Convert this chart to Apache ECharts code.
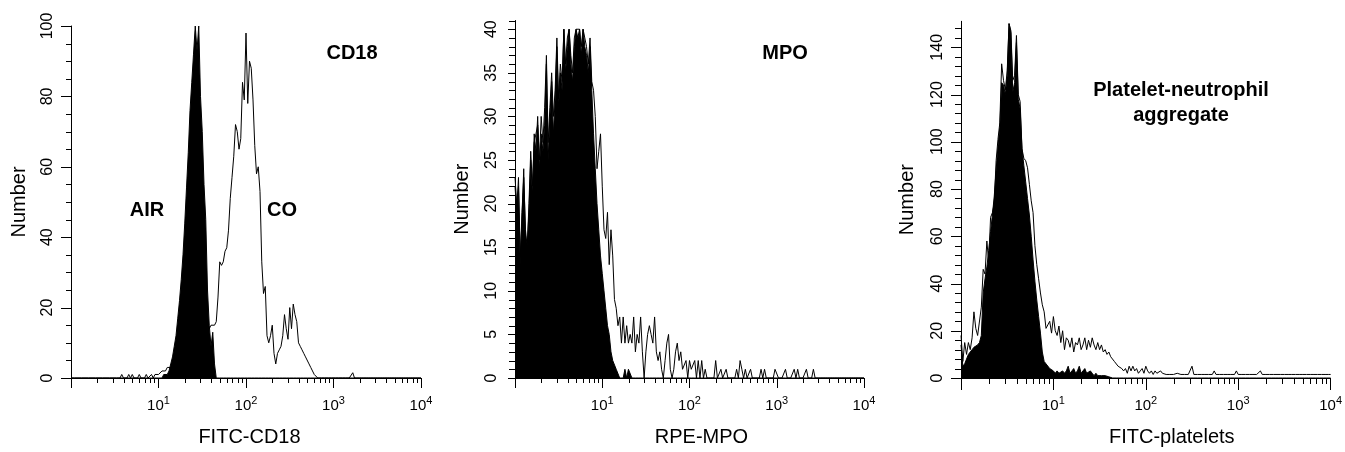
<!DOCTYPE html>
<html><head><meta charset="utf-8">
<script src="https://cdn.jsdelivr.net/npm/echarts@6/dist/echarts.min.js"></script>
<style>html,body{margin:0;padding:0;background:#fff}#c{width:1345px;height:452px}</style>
</head><body><div id="c"></div>
<script>
// ---------- data ----------
const CH_PER_DECADE = 50;              // log-amplified channels per decade (x = 10^(ch/50))
const xTickLabelsExp = [0, 1, 2, 3, 4]; // 10^0 .. 10^4
const xMinorTicks = [2,3,4,5,6,7,8,9, 20,30,40,50,60,70,80,90, 200,300,400,500,600,700,800,900, 2000,3000,4000,5000,6000,7000,8000,9000];
const xAxisNames = ['FITC-CD18', 'RPE-MPO', 'FITC-platelets'];
const yAxisName = 'Number';
const yAxisMax = [100, 41, 151];
const yLabelStep = [20, 5, 20];
const yMinorStep = [5, 1, 4];
const panelTitles = [['CD18'], ['MPO'], ['Platelet-neutrophil', 'aggregate']];
const groupLabels = ['AIR', 'CO'];

// Panel A: CD18 (channels from start)
const cd18AirStart = 52;
const cd18AirCounts = [0,1,1,1,2,4,6,9,12,17,22,28,35,44,54,64,76,84,92,100,93,100,80,70,55,45,25,15,9,13,4,0];
const cd18CoStart = 28;
const cd18CoCounts = [
  0,1,0,0,0,1,0,1,0,0,
  0,1,0,0,0,1,0,0,1,0,
  1,1,1,1,2,2,2,3,3,3,
  3,4,4,5,5,6,6,7,7,8,
  8,9,9,10,10,11,11,12,12,13,
  13,14,15,15,15,16,23,33,32,33,
  36,37,42,51,57,63,72,70,65,68,
  84,79,98,78,90,88,79,66,58,60,
  53,33,24,26,12,10,12,15,7,4,
  7,8,9,12,18,14,11,20,14,21,
  18,16,10,9,8,7,6,6,4,3,
  2,1,1,0,0,0,0,0,0,0,
  0,0,0,0,0,0,0,0,0,0,
  0,0,0,1.5,0];

// Panel B: MPO
const mpoAirStart = 0;
const mpoAirCounts = [
  23,20,22,13,19,23,17,15,19,25,
  21,28,26,30,24,28,26,29,36,25,
  30,34,28,32,38,31,35,33,40,35,
  38,40,36,34,38,40,39,40,37,40,
  38,37,35,38,33,28,24,20,17,14,
  12,10,8,6,5,3,2,2,1,1,
  0,0,0,1,0,1,1,0];
const mpoCoStart = 0;
const mpoCoCounts = [
  22,19,23,14,18,24,16,15,20,26,
  22,27,28,29,25,30,27,31,37,27,
  31,35,30,33,39,32,36,34,40,36,
  39,40,37,35,39,40,40,40,38,40,
  39,38,36,39,34,33,30,24,26,28,
  22,17,16,19,13,17,14,9,8,6,
  7,4,7,4,6,4,5,4,7,3,
  5,4,7,3,0,3,5,6,5,4,
  7,3,2,3,1,0,2,4,5,1,
  0,1,3,4,2,3,1,1,2,0,
  2,1,1,2,0,2,0,2,0,1,
  0,0,0,0,0,2,0,0,1,0,
  0,1,0,0,0,0,0,1,0,2,
  1,0,1,0,0,1,0,0,0,0,
  0,1,0,1,0,0,0,0,0,1,
  1,0,0,0,0,1,0,0,0,0,
  1,0,1,0,0,0,0,1,0,0,
  0,1,0];

// Panel C: platelet-neutrophil aggregate
const platAirStart = 0;
const platAirCounts = [
  14,5,6,8,10,11,12,13,13,14,
  15,18,36,42,47,54,62,69,77,88,
  98,106,125,124,120,128,150,146,121,125,
  142,118,114,97,90,83,76,69,60,50,
  41,33,26,19,11,7,6,6,4,4,
  3,2,3,2,2,3,2,3,5,2,
  3,4,2,3,5,2,2,4,2,2,
  3,2,1,2,1,1,1,1,1,0.5,0.5];
const platCoStart = 0;
const platCoCounts = [
  18,7,15,10,15,12,17,28,21,18,
  18,30,46,44,58,49,68,70,74,92,
  101,108,133,126,122,130,150,147,126,128,
  145,120,117,97,93,92,89,82,75,70,
  56,48,42,36,31,28,21,21,24,19,
  26,20,18,22,15,20,12,17,16,13,
  17,11,15,14,17,12,14,17,12,16,
  13,17,14,12,15,12,14,11,12,10,
  11,9,9,7,7,5,5,4,3,4,
  2,5,3,5,3,4,2,3,4,2,
  5,3,2,3,1.5,3,2,1.5,3,2,
  2,1.5,2,1.5,2,1.5,1.5,2,1.5,1.5,
  2,1.5,1.5,1.5,1.5,5,1.5,1.5,1.5,1.5,
  1.5,1.5,1.5,1.5,1.5,1.5,1.5,3,1.5,1.5,
  1.5,1.5,1.5,1.5,1.5,1.5,1.5,1.5,1.5,3,
  1.5,1.5,1.5,1.5,1.5,1.5,1.5,1.5,1.5,1.5,
  1.5,1.5,3,1.5,1.5,1.5,1.5,1.5,1.5,1.5,
  1.5,1.5,1.5,1.5,1.5,1.5,1.5,1.5,1.5,1.5,
  1.5,1.5,1.5,1.5,1.5,1.5,1.5,1.5,1.5,1.5,
  1.5,1.5,1.5,1.5,1.5,1.5,1.5,1.5,1.5,1.5,
  1.5];

// ---------- build ----------
const FONT = '"Liberation Sans", Arial, Helvetica, sans-serif';
const N_CH = 4 * CH_PER_DECADE;
function toPoints(start, counts) {
  const pts = [];
  for (let ch = 0; ch <= N_CH; ch++) {
    const i = ch - start;
    const v = (i >= 0 && i < counts.length) ? counts[i] : 0;
    pts.push([Math.pow(10, ch / CH_PER_DECADE), v]);
  }
  return pts;
}

const grids = [
  {left: 71, top: 26, width: 350, height: 357.3},
  {left: 515, top: 20.5, width: 349, height: 362.8},
  {left: 961, top: 21.3, width: 371, height: 362}
];
const xMajorLen = [10, 10, 12];
const xMinorLen = [5, 5, 6];
const yMajorLen = [10, 7, 10];
const yMinorLen = [5, 6, 6];
const xNamePad = [7, 24, 52];
const yNameGap = [42, 43, 44];

const xAxes = grids.map((g, gi) => ({
  type: 'log', logBase: 10, min: 1, max: 10000, gridIndex: gi,
  axisLine: {lineStyle: {color: '#000', width: 1}},
  axisTick: {length: xMajorLen[gi], lineStyle: {color: '#000', width: 1}},
  splitLine: {show: false},
  axisLabel: {
    margin: 17, color: '#000',
    formatter: v => {
      const e = Math.round(Math.log10(v));
      return (e === xTickLabelsExp[0]) ? '' : '{b|10}{s|' + e + '}';
    },
    rich: {
      b: {fontSize: 15, fontFamily: FONT, color: '#000', lineHeight: 18, verticalAlign: 'bottom'},
      s: {fontSize: 11, fontFamily: FONT, color: '#000', lineHeight: 18, verticalAlign: 'top'}
    }
  },
  name: xAxisNames[gi], nameLocation: 'middle', nameGap: 49,
  nameTextStyle: {fontSize: 20, fontFamily: FONT, color: '#000', padding: [0, 0, 0, xNamePad[gi]]}
}));

const yAxes = grids.map((g, gi) => ({
  type: 'value', gridIndex: gi, min: 0, max: yAxisMax[gi], interval: yLabelStep[gi],
  axisLine: {show: true, lineStyle: {color: '#000', width: 1}},
  axisTick: {show: false},
  splitLine: {show: false},
  axisLabel: {
    rotate: 90, margin: 15, fontSize: 16, fontFamily: FONT, color: '#000',
    formatter: v => (v % yLabelStep[gi] === 0 ? String(v) : '')
  },
  name: yAxisName, nameLocation: 'middle', nameGap: yNameGap[gi],
  nameTextStyle: {fontSize: 20, fontFamily: FONT, color: '#000'}
}));

function tickSeries(gi) {
  const items = [];
  xMinorTicks.forEach(v => items.push([v, 0, 0]));
  for (let v = 0; v <= yAxisMax[gi]; v += yMinorStep[gi]) {
    items.push([1, v, v % yLabelStep[gi] === 0 ? 2 : 1]);
  }
  return {
    type: 'custom', xAxisIndex: gi, yAxisIndex: gi, clip: false, silent: true, z: 10,
    data: items,
    renderItem: (params, api) => {
      const kind = api.value(2);
      const p = api.coord([api.value(0), api.value(1)]);
      if (kind === 0) {
        const x = Math.round(p[0]) + 0.5, y = Math.round(p[1]);
        return {type: 'line', shape: {x1: x, y1: y, x2: x, y2: y + xMinorLen[gi]}, style: {stroke: '#000', lineWidth: 1}};
      }
      const len = kind === 2 ? yMajorLen[gi] : yMinorLen[gi];
      const x = Math.round(p[0]), y = Math.round(p[1]) + 0.5;
      return {type: 'line', shape: {x1: x - len, y1: y, x2: x, y2: y}, style: {stroke: '#000', lineWidth: 1}};
    }
  };
}

function fillSeries(gi, name, start, counts) {
  return {
    type: 'line', name, xAxisIndex: gi, yAxisIndex: gi, data: toPoints(start, counts),
    showSymbol: false, symbol: 'none', z: 2,
    lineStyle: {color: '#000', width: 1}, areaStyle: {color: '#000', opacity: 1}
  };
}
function outlineSeries(gi, name, start, counts) {
  return {
    type: 'line', name, xAxisIndex: gi, yAxisIndex: gi, data: toPoints(start, counts),
    showSymbol: false, symbol: 'none', z: 3,
    lineStyle: {color: '#000', width: 1}
  };
}

const series = [
  fillSeries(0, 'AIR', cd18AirStart, cd18AirCounts),
  outlineSeries(0, 'CO', cd18CoStart, cd18CoCounts),
  fillSeries(1, 'AIR', mpoAirStart, mpoAirCounts),
  outlineSeries(1, 'CO', mpoCoStart, mpoCoCounts),
  fillSeries(2, 'AIR', platAirStart, platAirCounts),
  outlineSeries(2, 'CO', platCoStart, platCoCounts),
  tickSeries(0), tickSeries(1), tickSeries(2)
];

function label(text, x, y) {
  return {type: 'text', x, y, z: 20, silent: true,
    style: {text, fill: '#000', font: 'bold 20px ' + FONT, align: 'center', verticalAlign: 'middle'}};
}

const chart = echarts.init(document.getElementById('c'), null, {renderer: 'canvas'});
chart.setOption({
  animation: false,
  backgroundColor: '#fff',
  grid: grids.map(g => Object.assign({containLabel: false}, g)),
  xAxis: xAxes,
  yAxis: yAxes,
  series,
  graphic: [
    label(panelTitles[0][0], 352, 53),
    label(groupLabels[0], 147, 210),
    label(groupLabels[1], 282, 210),
    label(panelTitles[1][0], 785, 53),
    label(panelTitles[2][0], 1181, 90),
    label(panelTitles[2][1], 1181, 115)
  ]
});
</script>
</body></html>
